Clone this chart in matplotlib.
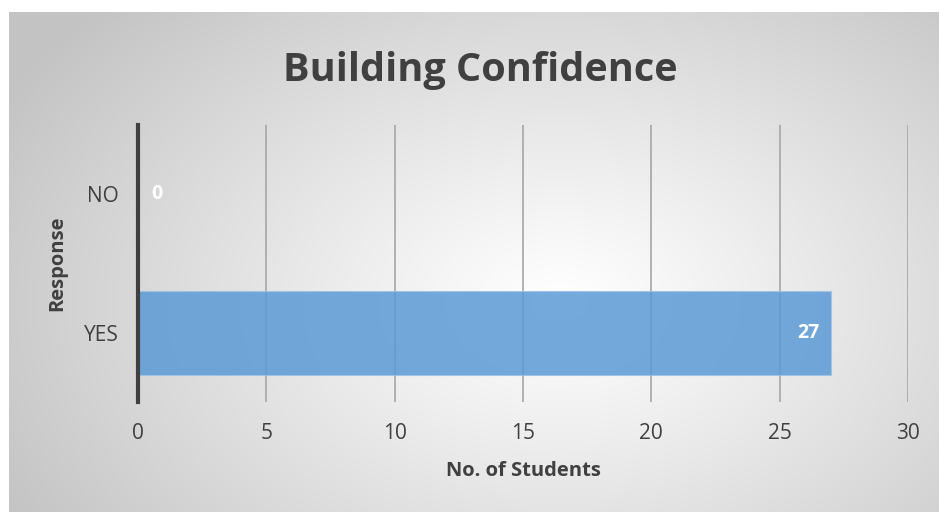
import numpy as np
import matplotlib.pyplot as plt

# data
responses = ["YES", "NO"]
students = [27, 0]
xticks = [0, 5, 10, 15, 20, 25, 30]

plt.rcParams['font.family'] = ['Open Sans', 'DejaVu Sans']

W, H = 939, 512
fig = plt.figure(figsize=(W / 100, H / 100), dpi=100)
fig.patch.set_facecolor("white")

# radial gradient background of the chart box
bg = fig.add_axes([9 / W, 0, 930 / W, 500 / H])
yy, xx = np.mgrid[0:500, 0:930]
cx, cy = 550, 290
d = np.sqrt(((xx - cx) / 640.0) ** 2 + ((yy - cy) / 430.0) ** 2)
vals = 255 - 60 * np.clip(d, 0, 1) ** 1.1
img = np.dstack([vals, vals, vals]) / 255.0
bg.imshow(img, aspect="auto", interpolation="bilinear")
bg.set_axis_off()

ax = fig.add_axes([138 / W, 1 - 402 / H, 770 / W, 277 / H])
ax.set_facecolor("none")

ypos = np.arange(len(responses))
bars = ax.barh(ypos, students, height=0.61, color="#5b9bd5", alpha=0.85,
               edgecolor="#9dc3e6", linewidth=0.8, zorder=2)

ax.set_xlim(0, 30)
ax.set_ylim(-0.5, 1.5)
ax.set_xticks(xticks)
ax.set_xticklabels([str(t) for t in xticks])
ax.set_yticks(ypos)
ax.set_yticklabels(responses)
ax.tick_params(axis="both", length=0, labelsize=15, colors="#404040")
ax.tick_params(axis="x", pad=15)
ax.tick_params(axis="y", pad=14)

ax.grid(axis="x", color="#a6a6a6", linewidth=1.2, zorder=1)
ax.set_axisbelow(True)
for s in ["top", "right", "bottom"]:
    ax.spines[s].set_visible(False)
ax.spines["left"].set_color("#404040")
ax.spines["left"].set_linewidth(3)
ax.spines["left"].set_zorder(3)

# data labels
for y, v in zip(ypos, students):
    if v > 0:
        ax.text(v - 0.45, y, str(v), ha="right", va="center", color="white",
                fontsize=14, fontweight="bold", zorder=4)
    else:
        ax.text(v + 0.5, y, str(v), ha="left", va="center", color="white",
                fontsize=14, fontweight="bold", zorder=4)

ax.set_xlabel("No. of Students", fontsize=14.5, fontweight="bold",
              color="#404040", labelpad=12)
ax.set_ylabel("Response", fontsize=14.5, fontweight="bold",
              color="#404040", labelpad=12)

fig.text(480 / W, 1 - 71 / H, "Building Confidence", ha="center", va="center",
         fontsize=28.5, fontweight="bold", color="#404040")

fig.savefig("out.png", dpi=100)
